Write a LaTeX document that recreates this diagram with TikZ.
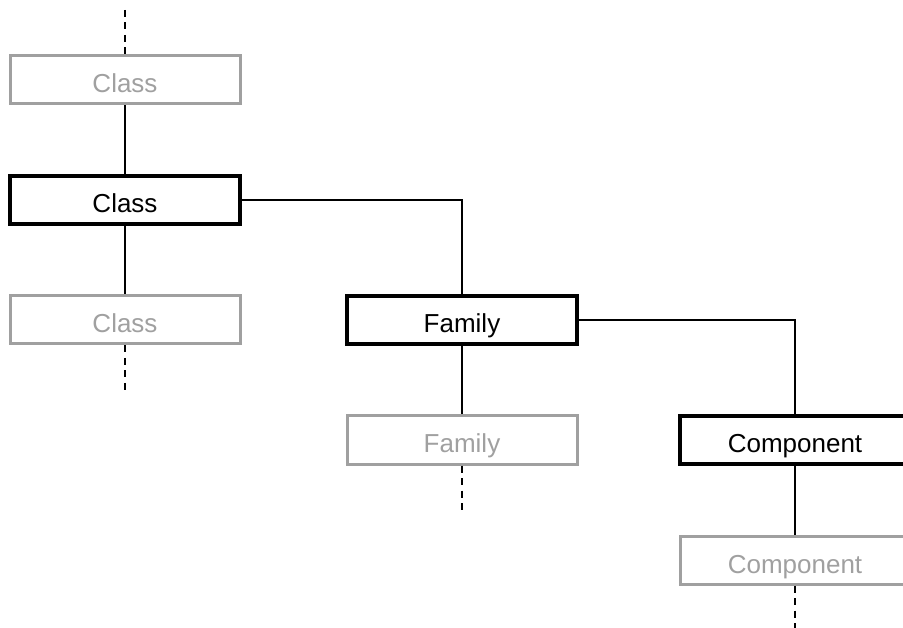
\documentclass[tikz,border=0pt]{standalone}
\usepackage{fontspec}
\setmainfont{Liberation Sans}
\usetikzlibrary{positioning}
\definecolor{ghostgray}{HTML}{A0A0A0}

\begin{document}
\begin{tikzpicture}[x=1pt,y=1pt,
      level/.style={draw,line width=3.5pt,minimum width=230pt,minimum height=48pt,
        inner sep=0pt,text height=26pt,text depth=0pt,font=\fontsize{26}{30}\selectfont},
      ghost/.style={level,draw=ghostgray,text=ghostgray,line width=3pt},
      link/.style={line width=1.5pt},
      more/.style={link,dash pattern=on 7pt off 5.5pt}]
    \clip (0,0) rectangle (903,-628);
    \node[ghost] (clsup) at (125,-80) {Class};
    \node[level] (cls) at (125,-200) {Class};
    \node[ghost] (clsdown) at (125,-320) {Class};
    \node[level] (fam) at (462,-320) {Family};
    \node[ghost] (famdown) at (462,-440) {Family};
    \node[level] (comp) at (795,-440) {Component};
    \node[ghost] (compdown) at (795,-560) {Component};
    \coordinate (clstop) at (125,-10);
    \coordinate (clsend) at (125,-393);
    \coordinate (famend) at (462,-513);
    \coordinate (compend) at (795,-633);
    \draw[more] (clstop) -- (clsup.north);
    \draw[link] (clsup) -- (cls); \draw[link] (cls) -- (clsdown);
    \draw[more] (clsdown.south) -- (clsend);
    \draw[link] (cls.east) -| (fam.north);
    \draw[link] (fam) -- (famdown);
    \draw[more] (famdown.south) -- (famend);
    \draw[link] (fam.east) -| (comp.north);
    \draw[link] (comp) -- (compdown);
    \draw[more] (compdown.south) -- (compend);
  \end{tikzpicture}
\end{document}
